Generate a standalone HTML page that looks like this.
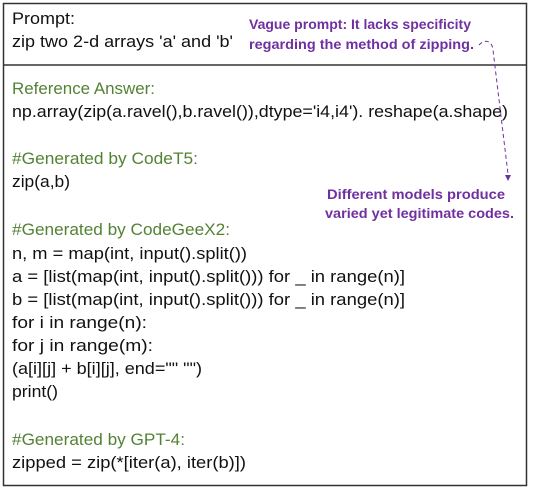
<!DOCTYPE html>
<html><head><style>html,body{margin:0;padding:0;background:#fff}svg{display:block}</style></head>
<body>
<svg width="538" height="496" xmlns="http://www.w3.org/2000/svg" font-family="Liberation Sans, sans-serif">
<rect x="3.5" y="3.5" width="523" height="482" fill="#fff" stroke="#333" stroke-width="1.5"/>
<line x1="3" y1="65" x2="527" y2="65" stroke="#333" stroke-width="1.5"/>
<g font-size="17" fill="#111">
<text x="12" y="24" textLength="63" lengthAdjust="spacingAndGlyphs">Prompt:</text>
<text x="12" y="47" textLength="221" lengthAdjust="spacingAndGlyphs">zip two 2-d arrays 'a' and 'b'</text>
<text x="12" y="94" fill="#548235" textLength="143" lengthAdjust="spacingAndGlyphs">Reference Answer:</text>
<text x="12" y="117" textLength="496" lengthAdjust="spacingAndGlyphs">np.array(zip(a.ravel(),b.ravel()),dtype='i4,i4'). reshape(a.shape)</text>
<text x="12" y="164" fill="#548235" textLength="186" lengthAdjust="spacingAndGlyphs">#Generated by CodeT5:</text>
<text x="12" y="187" textLength="58" lengthAdjust="spacingAndGlyphs">zip(a,b)</text>
<text x="12" y="235" fill="#548235" textLength="218" lengthAdjust="spacingAndGlyphs">#Generated by CodeGeeX2:</text>
<text x="12" y="259" textLength="235" lengthAdjust="spacingAndGlyphs">n, m = map(int, input().split())</text>
<text x="12" y="282" textLength="393" lengthAdjust="spacingAndGlyphs">a = [list(map(int, input().split())) for _ in range(n)]</text>
<text x="12" y="305" textLength="393" lengthAdjust="spacingAndGlyphs">b = [list(map(int, input().split())) for _ in range(n)]</text>
<text x="12" y="328" textLength="135" lengthAdjust="spacingAndGlyphs">for i in range(n):</text>
<text x="12" y="351" textLength="141" lengthAdjust="spacingAndGlyphs">for j in range(m):</text>
<text x="12" y="374" textLength="190" lengthAdjust="spacingAndGlyphs">(a[i][j] + b[i][j], end="" "")</text>
<text x="12" y="397" textLength="46" lengthAdjust="spacingAndGlyphs">print()</text>
<text x="12" y="445" fill="#548235" textLength="173" lengthAdjust="spacingAndGlyphs">#Generated by GPT-4:</text>
<text x="12" y="468" textLength="234" lengthAdjust="spacingAndGlyphs">zipped = zip(*[iter(a), iter(b)])</text>
</g>
<g font-size="13.5" font-weight="bold" fill="#7030A0">
<text x="249" y="29" textLength="222" lengthAdjust="spacingAndGlyphs">Vague prompt: It lacks specificity</text>
<text x="249" y="49" textLength="225" lengthAdjust="spacingAndGlyphs">regarding the method of zipping.</text>
<text x="327" y="199" textLength="178" lengthAdjust="spacingAndGlyphs">Different models produce</text>
<text x="325" y="218" textLength="189" lengthAdjust="spacingAndGlyphs">varied yet legitimate codes.</text>
</g>
<path d="M479,45 C484,39 492,40 493,50 L508,174" fill="none" stroke="#7030A0" stroke-width="1" stroke-dasharray="4,3"/>
<polygon points="505,175 511,175 508,181" fill="#7030A0"/>
</svg>
</body></html>
